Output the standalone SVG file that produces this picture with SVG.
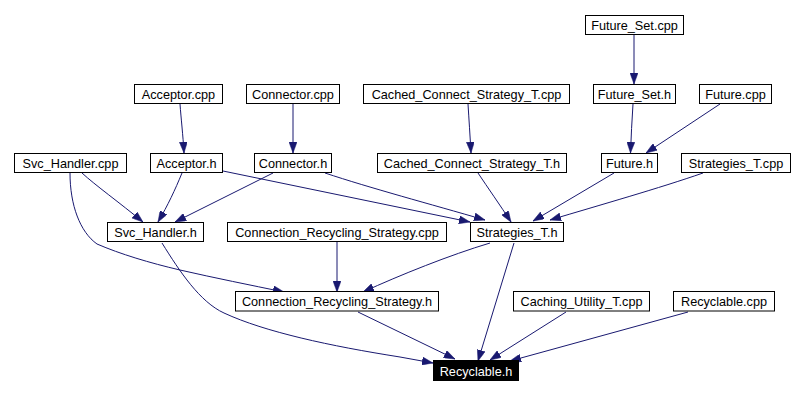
<svg xmlns="http://www.w3.org/2000/svg" width="804" height="395" viewBox="0 0 804 395">
  <style>
    .node rect { fill: #ffffff; stroke: #000000; stroke-width: 1; }
    .node text { font-family: "Liberation Sans", Arial, Helvetica, sans-serif; font-size: 12.7px; fill: #000000; text-anchor: middle; }
    .node.root rect { fill: #000000; }
    .node.root text { fill: #ffffff; }
    .edges path { fill: none; stroke: #191970; stroke-width: 1; marker-end: url(#arrow); }
  </style>
  <defs>
    <marker id="arrow" markerUnits="userSpaceOnUse" viewBox="0 0 11 8" refX="11" refY="4" markerWidth="11" markerHeight="8" orient="auto">
      <path d="M0,0 L11,4 L0,8 Z" fill="#191970" stroke="#191970" stroke-width="0.5"/>
    </marker>
  </defs>
  <rect width="804" height="395" fill="#ffffff"/>

  <g class="edges" id="edges">
    <path d="M634,35 L634,84"/>
    <path d="M633,104 C632,120 631,137 630.5,153"/>
    <path d="M720,104 L646,153"/>
    <path d="M180,104 C181,118 183,135 184,153"/>
    <path d="M293,104 L293,153"/>
    <path d="M468,104 C469,120 470,135 471,153"/>
    <path d="M82,173 C95,185 120,203 143,222"/>
    <path d="M70,173 C70,205 80,232 97,244 C120,254 150,263 180,270 C215,278 250,285 284,292"/>
    <path d="M182,173 C175,190 168,205 158,222"/>
    <path d="M273,173 L175,222"/>
    <path d="M223,171 L470,222"/>
    <path d="M325,173 C370,188 430,204 485,220"/>
    <path d="M478,173 C488,188 500,205 511,222"/>
    <path d="M614,173 L533,221"/>
    <path d="M703,173 C660,188 600,205 550,220"/>
    <path d="M337,242 L337,292"/>
    <path d="M490,243 C450,255 400,275 363,292"/>
    <path d="M514,243 L478,361"/>
    <path d="M162,243 C180,272 200,302 224,313 C265,332 330,346 400,357 L433,363"/>
    <path d="M358,312 L455,359"/>
    <path d="M566,312 L490,360"/>
    <path d="M688,312 L510,361"/>
  </g>

  <g class="node" id="future_set_cpp"><rect x="585.5" y="15.5" width="98" height="19"/><text x="634.5" y="30">Future_Set.cpp</text></g>

  <g class="node" id="acceptor_cpp"><rect x="134.5" y="84.5" width="88" height="19"/><text x="178.5" y="99">Acceptor.cpp</text></g>
  <g class="node" id="connector_cpp"><rect x="246.5" y="84.5" width="93" height="19"/><text x="293" y="99">Connector.cpp</text></g>
  <g class="node" id="cached_connect_strategy_t_cpp"><rect x="363.5" y="84.5" width="206" height="19"/><text x="466.5" y="99">Cached_Connect_Strategy_T.cpp</text></g>
  <g class="node" id="future_set_h"><rect x="593.5" y="84.5" width="82" height="19"/><text x="634.5" y="99">Future_Set.h</text></g>
  <g class="node" id="future_cpp"><rect x="699.5" y="84.5" width="72" height="19"/><text x="735.5" y="99">Future.cpp</text></g>

  <g class="node" id="svc_handler_cpp"><rect x="14.5" y="153.5" width="112" height="19"/><text x="70.5" y="168">Svc_Handler.cpp</text></g>
  <g class="node" id="acceptor_h"><rect x="150.5" y="153.5" width="72" height="19"/><text x="186.5" y="168">Acceptor.h</text></g>
  <g class="node" id="connector_h"><rect x="254.5" y="153.5" width="77" height="19"/><text x="293" y="168">Connector.h</text></g>
  <g class="node" id="cached_connect_strategy_t_h"><rect x="377.5" y="153.5" width="189" height="19"/><text x="472" y="168">Cached_Connect_Strategy_T.h</text></g>
  <g class="node" id="future_h"><rect x="601.5" y="153.5" width="56" height="19"/><text x="629.5" y="168">Future.h</text></g>
  <g class="node" id="strategies_t_cpp"><rect x="681.5" y="153.5" width="109" height="19"/><text x="736" y="168">Strategies_T.cpp</text></g>

  <g class="node" id="svc_handler_h"><rect x="107.5" y="222.5" width="96" height="19"/><text x="155.5" y="237">Svc_Handler.h</text></g>
  <g class="node" id="connection_recycling_strategy_cpp"><rect x="227.5" y="222.5" width="219" height="19"/><text x="337" y="237">Connection_Recycling_Strategy.cpp</text></g>
  <g class="node" id="strategies_t_h"><rect x="470.5" y="222.5" width="93" height="19"/><text x="517" y="237">Strategies_T.h</text></g>

  <g class="node" id="connection_recycling_strategy_h"><rect x="235.5" y="291.5" width="203" height="19.5"/><text x="337" y="306">Connection_Recycling_Strategy.h</text></g>
  <g class="node" id="caching_utility_t_cpp"><rect x="513.5" y="291.5" width="136" height="19.5"/><text x="581.5" y="306">Caching_Utility_T.cpp</text></g>
  <g class="node" id="recyclable_cpp"><rect x="673.5" y="291.5" width="101" height="19.5"/><text x="724" y="306">Recyclable.cpp</text></g>

  <g class="node root" id="recyclable_h"><rect x="433.5" y="360.5" width="85" height="20"/><text x="476" y="375.5">Recyclable.h</text></g>
</svg>
